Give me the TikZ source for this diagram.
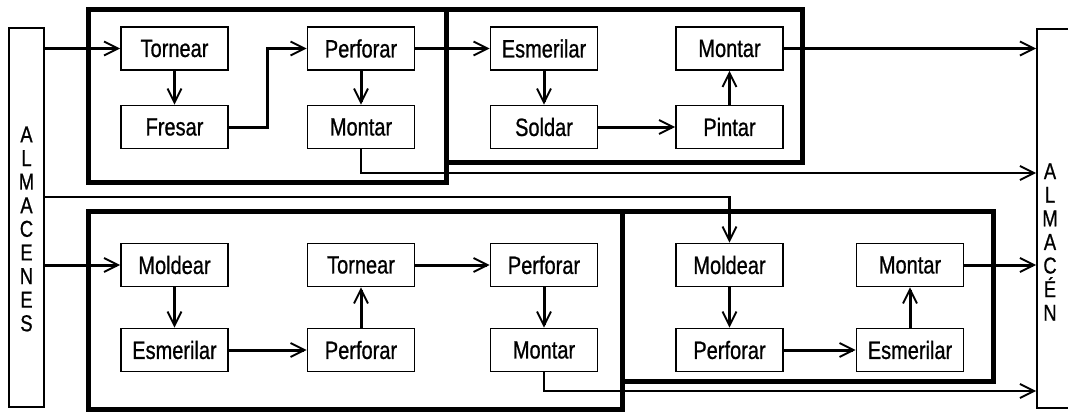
\documentclass[tikz,border=0pt]{standalone}
\usepackage{fontspec}
\newfontfamily\procfont[FakeStretch=0.8,FakeBold=0.8]{Liberation Sans}
\usetikzlibrary{arrows.meta}

\tikzset{
  proc/.style={draw, line width=1.6pt, minimum width=107pt, minimum height=43pt,
    inner sep=0pt, font=\procfont\fontsize{25}{28}\selectfont},
  store/.style={draw, line width=1.6pt, inner sep=0pt},
  storetext/.style={align=center, inner sep=0pt, font=\procfont\fontsize{23}{23.6}\selectfont},
  group/.style={draw, line width=5pt},
  tip/.style={-{Straight Barb[length=14pt, width=14pt, line width=1.9pt]}},
  conn/.style={tip, line width=3pt},
  longconn/.style={tip, line width=2.5pt},
}

\begin{document}
\begin{tikzpicture}[x=1pt, y=-1pt]
\useasboundingbox[fill=white] (0,0) rectangle (1068,412);

% storage columns on both sides
\node[store, minimum width=35pt, minimum height=379pt] (almacenes) at (26.5,217.5) {};
\node[storetext] (almacenesText) at (26.5,229) {A\\L\\M\\A\\C\\E\\N\\E\\S};
\node[store, anchor=north west, minimum width=60pt, minimum height=379pt] (almacen) at (1036,28) {};
\node[storetext] (almacenText) at (1050,242) {A\\L\\M\\A\\C\\É\\N};

% cell frames
\draw[group] (88,10) rectangle (446,182);
\draw[group] (446,10) rectangle (802,162);
\draw[group] (88,211) rectangle (622,409);
\draw[group] (622,211) rectangle (993,381);

% upper line of operations
\node[proc] (tornearA)   at (174.5,48.5) {Tornear};
\node[proc] (fresarA)    at (174.5,127)  {Fresar};
\node[proc] (perforarA)  at (361,48.5)   {Perforar};
\node[proc] (montarA)    at (361,127)    {Montar};
\node[proc] (esmerilarB) at (544,48.5)   {Esmerilar};
\node[proc] (soldarB)    at (544,127)    {Soldar};
\node[proc] (montarB)    at (729.5,48.5) {Montar};
\node[proc] (pintarB)    at (729.5,127)  {Pintar};

% lower line of operations
\node[proc] (moldearC)    at (174.5,265) {Moldear};
\node[proc] (esmerilarC)  at (174.5,350) {Esmerilar};
\node[proc] (tornearC)    at (361,265)   {Tornear};
\node[proc] (perforarC)   at (361,350)   {Perforar};
\node[proc] (perforarC2)  at (544,265)   {Perforar};
\node[proc] (montarC)     at (544,350)   {Montar};
\node[proc] (moldearD)    at (729.5,265) {Moldear};
\node[proc] (perforarD)   at (729.5,350) {Perforar};
\node[proc] (montarD)     at (910,265)   {Montar};
\node[proc] (esmerilarD)  at (910,350)   {Esmerilar};

% feed points on the storage columns
\coordinate (outTop) at (almacenes.east |- tornearA);
\coordinate (outMid) at (almacenes.east |- 0,197);
\coordinate (outLow) at (almacenes.east |- moldearC);
\coordinate (inTop)  at (almacen.west |- montarB);
\coordinate (inA)    at (almacen.west |- 0,173);
\coordinate (inD)    at (almacen.west |- montarD);
\coordinate (inC)    at (almacen.west |- 0,391);

% upper flows
\draw[conn] (outTop) -- (tornearA);
\draw[conn] (tornearA) -- (fresarA);
\draw[conn] (fresarA.east) -- ++(39,0) |- (perforarA.west);
\draw[conn] (perforarA) -- (montarA);
\draw[conn] (perforarA) -- (esmerilarB);
\draw[conn] (esmerilarB) -- (soldarB);
\draw[conn] (soldarB) -- (pintarB);
\draw[conn] (pintarB) -- (montarB);
\draw[longconn] (montarB) -- (inTop);
\draw[longconn] (montarA.south) |- (inA);

% lower flows
\draw[conn] (outLow) -- (moldearC);
\draw[longconn] (outMid) -| (moldearD.north);
\draw[conn] (moldearC) -- (esmerilarC);
\draw[conn] (esmerilarC) -- (perforarC);
\draw[conn] (perforarC) -- (tornearC);
\draw[conn] (tornearC) -- (perforarC2);
\draw[conn] (perforarC2) -- (montarC);
\draw[longconn] (montarC.south) |- (inC);
\draw[conn] (moldearD) -- (perforarD);
\draw[conn] (perforarD) -- (esmerilarD);
\draw[conn] (esmerilarD) -- (montarD);
\draw[conn] (montarD) -- (inD);
\end{tikzpicture}
\end{document}
